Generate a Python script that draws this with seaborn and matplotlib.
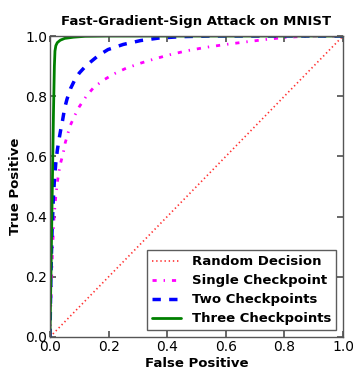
import numpy as np
import pandas as pd
import seaborn as sns
import matplotlib.pyplot as plt

# ROC points
random_fpr = [0.0, 1.0]
random_tpr = [0.0, 1.0]

single_fpr = [0.0, 0.004, 0.009, 0.014, 0.02, 0.026, 0.034, 0.045, 0.052, 0.068, 0.084,
              0.1, 0.124, 0.15, 0.185, 0.22, 0.26, 0.31, 0.357, 0.41, 0.467, 0.53,
              0.6, 0.69, 0.75, 0.81, 0.9, 1.0]
single_tpr = [0.0, 0.15, 0.3, 0.4, 0.47, 0.52, 0.57, 0.61, 0.645, 0.7, 0.735,
              0.765, 0.8, 0.83, 0.855, 0.875, 0.893, 0.91, 0.924, 0.938, 0.951, 0.962,
              0.972, 0.983, 0.99, 0.996, 1.0, 1.0]

two_fpr = [0.0, 0.003, 0.007, 0.011, 0.015, 0.02, 0.025, 0.03, 0.036, 0.043, 0.05,
           0.058, 0.07, 0.085, 0.1, 0.118, 0.14, 0.165, 0.198, 0.25, 0.31, 0.37,
           0.45, 0.55, 1.0]
two_tpr = [0.0, 0.2, 0.35, 0.45, 0.52, 0.58, 0.62, 0.652, 0.685, 0.72, 0.76,
           0.79, 0.825, 0.855, 0.877, 0.896, 0.915, 0.935, 0.955, 0.972, 0.985, 0.993,
           0.998, 1.0, 1.0]

three_fpr = [0.0, 0.004, 0.008, 0.012, 0.015, 0.017, 0.02, 0.025, 0.035, 0.05, 0.08,
             0.12, 0.2, 1.0]
three_tpr = [0.0, 0.25, 0.5, 0.75, 0.9, 0.95, 0.968, 0.978, 0.986, 0.992, 0.996,
             0.999, 1.0, 1.0]

labels = ["Random Decision", "Single Checkpoint", "Two Checkpoints", "Three Checkpoints"]

sns.set_theme(style="ticks", rc={
    "xtick.direction": "in", "ytick.direction": "in",
    "xtick.top": True, "ytick.right": True,
    "axes.edgecolor": "#555555", "axes.linewidth": 1.0,
    "text.color": "black", "axes.labelcolor": "black",
    "xtick.labelcolor": "black", "ytick.labelcolor": "black",
    "lines.scale_dashes": False,
    "lines.dashed_pattern": [6, 6], "lines.dashdot_pattern": [3, 5, 1, 5],
    "lines.dotted_pattern": [1, 2],
})
plt.rcParams["font.family"] = ["DejaVu Sans"]

fig = plt.figure(figsize=(3.53, 3.70), dpi=100)
ax = fig.add_axes([0.1416, 0.0892, 0.8301, 0.8135])

series = [
    (random_fpr, random_tpr, "#ff3030", ":", 1.2),
    (single_fpr, single_tpr, "#ff00ff", "-.", 2.0),
    (two_fpr, two_tpr, "#0000ff", "--", 2.5),
    (three_fpr, three_tpr, "#008000", "-", 2.0),
]
for (fx, ty, col, ls, lw), lab in zip(series, labels):
    df = pd.DataFrame({"fpr": fx, "tpr": ty})
    sns.lineplot(data=df, x="fpr", y="tpr", ax=ax, color=col, linestyle=ls,
                 linewidth=lw, label=lab, sort=False, estimator=None)

ax.set_xlim(0, 1)
ax.set_ylim(0, 1)
ax.set_xticks(np.arange(0, 1.01, 0.2))
ax.set_yticks(np.arange(0, 1.01, 0.2))
ax.tick_params(labelsize=10, length=4, color="#555555", pad=2)
ax.set_title("Fast-Gradient-Sign Attack on MNIST", fontsize=9.5, fontweight="bold", pad=8)
ax.set_xlabel("False Positive", fontsize=9.5, fontweight="bold", labelpad=2)
ax.set_ylabel("True Positive", fontsize=9.5, fontweight="bold", labelpad=2)

leg = ax.legend(loc="lower right", fancybox=False, frameon=True, handlelength=2.2,
                prop={"weight": "bold", "size": 9.5}, borderaxespad=0.5,
                labelspacing=0.45)
leg.get_frame().set_edgecolor("#333333")
leg.get_frame().set_linewidth(1.0)

plt.savefig("out.png", dpi=100)
plt.close()
